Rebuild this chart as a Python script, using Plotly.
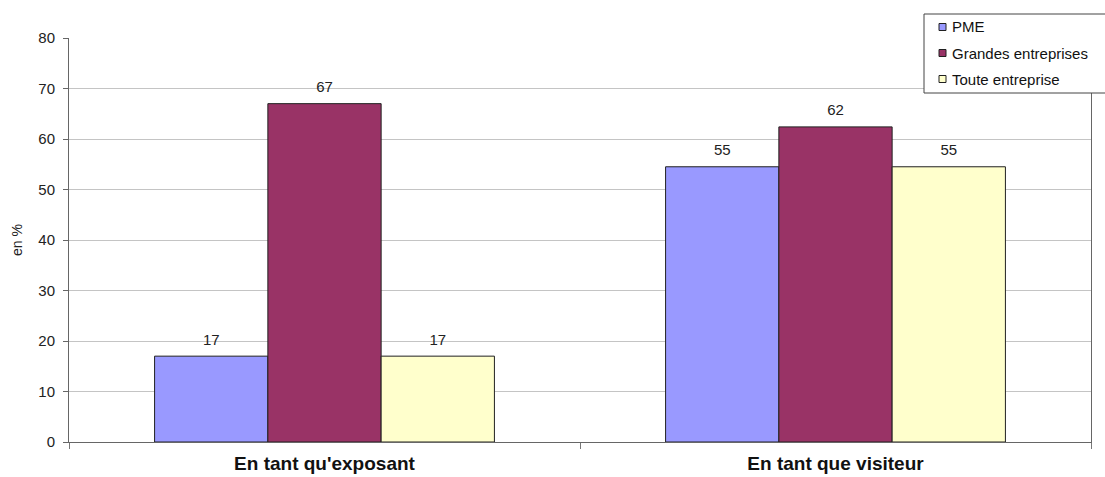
import plotly.graph_objects as go

categories = ["En tant qu'exposant", "En tant que visiteur"]
series_names = ["PME", "Grandes entreprises", "Toute entreprise"]
pme = [17, 54.5]
grandes = [67, 62.4]
toute = [17, 54.5]
pme_labels = ["17", "55"]
grandes_labels = ["67", "62"]
toute_labels = ["17", "55"]
y_ticks = [0, 10, 20, 30, 40, 50, 60, 70, 80]

colors = ["#9999FF", "#993366", "#FFFFCC"]
FONT = "Arial, Liberation Sans, sans-serif"
BARGAP = 0.335

fig = go.Figure()
for name, vals, col in zip(series_names, [pme, grandes, toute], colors):
    fig.add_trace(go.Bar(
        x=categories, y=vals, name=name, showlegend=False,
        marker=dict(color=col, line=dict(color="#202020", width=1)),
        hoverinfo="x+y+name",
    ))
# value labels, aligned with the bars through scatter grouping
for name, vals, labels in zip(series_names, [pme, grandes, toute],
                              [pme_labels, grandes_labels, toute_labels]):
    fig.add_trace(go.Scatter(
        x=categories, y=vals, mode="markers+text", showlegend=False,
        marker=dict(size=11, opacity=0), text=labels,
        textposition="top center", cliponaxis=False, hoverinfo="skip",
        textfont=dict(family=FONT, size=15, color="#222222"),
    ))

# custom legend (layout decoration)
X0, PW, YB, PH = 69, 1022, 442, 404
def px(x):
    return (x - X0) / PW
def py(y):
    return (YB - y) / PH

shapes = [dict(type="rect", xref="paper", yref="paper",
               x0=px(924), x1=px(1110), y0=py(93), y1=py(14),
               line=dict(color="#444444", width=1), fillcolor="white", layer="above")]
annotations = []
row_y = [27, 53, 79]
for name, col, ry in zip(series_names, colors, row_y):
    shapes.append(dict(type="rect", xref="paper", yref="paper",
                       x0=px(939), x1=px(946), y0=py(ry + 3.5), y1=py(ry - 3.5),
                       line=dict(color="#202020", width=1), fillcolor=col, layer="above"))
    annotations.append(dict(xref="paper", yref="paper", x=px(950), y=py(ry),
                            xanchor="left", yanchor="middle", showarrow=False,
                            text=name, font=dict(family=FONT, size=15, color="#111111")))

fig.update_layout(
    width=1105, height=477,
    margin=dict(l=69, r=14, t=38, b=35),
    paper_bgcolor="white", plot_bgcolor="white",
    barmode="group", bargap=BARGAP, bargroupgap=0,
    scattermode="group", scattergap=BARGAP,
    font=dict(family=FONT, color="#222222"),
    showlegend=False,
    shapes=shapes, annotations=annotations,
    xaxis=dict(
        type="category", tickson="boundaries", ticks="outside", ticklen=6,
        tickcolor="#777777", showline=True, linecolor="#666666", linewidth=1,
        ticklabelstandoff=4, automargin=False,
        tickfont=dict(size=19, family=FONT, color="#111111", weight="bold"),
        showgrid=False,
    ),
    yaxis=dict(
        range=[0, 80], tickvals=y_ticks, ticks="outside", ticklen=5,
        tickcolor="#666666", showline=True, linecolor="#666666", linewidth=1,
        mirror=True, automargin=False, ticklabelstandoff=5,
        gridcolor="#c4c4c4", gridwidth=1,
        tickfont=dict(size=15, color="#222222"), zeroline=False,
        title=dict(text="en %", font=dict(size=14), standoff=12),
    ),
)

fig.write_html("out.html")
